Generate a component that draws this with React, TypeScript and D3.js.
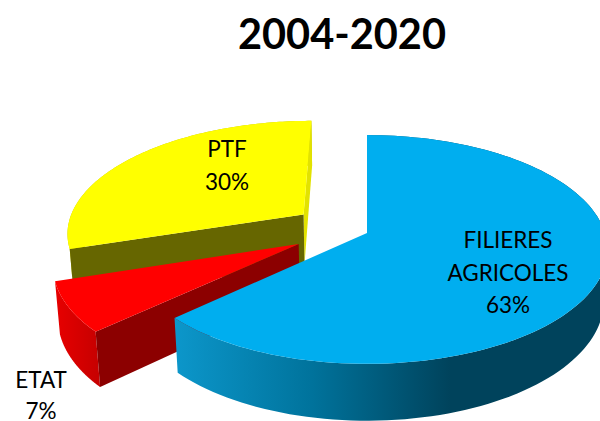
import * as d3 from 'd3'

const title = '2004-2020'
const categories = ['FILIERES AGRICOLES', 'ETAT', 'PTF']
const values = [63, 7, 30]
const topColors = ['#00aeef', '#ff0000', '#ffff00']
const cutColors = ['#0a4a62', '#8c0000', '#666600']
const backColors = ['#00536f', '#a00000', '#e2e200']
const rimColors = ['url(#blueRim)', 'url(#redRim)', '#c4c400']

// how far each slice is pulled out of the pie, on the ground plane
const explodeX = [0, -0.283, -0.273]
const explodeY = [0, -0.097, 0.17]

const labelLines = [['FILIERES', 'AGRICOLES', '63%'], ['ETAT', '7%'], ['PTF', '30%']]
const labelX = [508, 41, 227]
const labelY = [248, 388, 157]

const W = 600
const H = 421
const cx = 367
const cy = 233
const R = 238
const Ry = 112
const k = 0.144 // perspective
const drop = 0.015
const D = 51.5 // thickness

function project(x: number, y: number, low: boolean): [number, number] {
  const s = 1 / (1 + k * y + (low ? drop : 0))
  return [cx + R * x * s, cy - Ry * y * s + (low ? D * s : 0)]
}

export default function App() {
  const slices = d3.pie<number>().sort(null)(values)
  const line = d3.line()

  const order = [2, 1, 0]

  return (
    <svg width={W} height={H} viewBox={`0 0 ${W} ${H}`}
      style={{ position: 'absolute', left: 0, top: 0, display: 'block' }}>
      <defs>
        <linearGradient id="blueRim" gradientUnits="userSpaceOnUse" x1={173} x2={450} y1={0} y2={0}>
          <stop offset="0" stopColor="#0c97cb" />
          <stop offset="0.5" stopColor="#00739c" />
          <stop offset="1" stopColor="#00435c" />
        </linearGradient>
        <linearGradient id="redRim" gradientUnits="userSpaceOnUse" x1={54} x2={97} y1={0} y2={0}>
          <stop offset="0" stopColor="#e80000" />
          <stop offset="1" stopColor="#c80000" />
        </linearGradient>
      </defs>

      {order.map(i => {
        const a = slices[i]
        const hx = explodeX[i]
        const hy = explodeY[i]
        const thetas = d3.range(0, 121).map(t => a.startAngle + (a.endAngle - a.startAngle) * t / 120)
        const pt = (th: number, low: boolean) => project(hx + Math.sin(th), hy + Math.cos(th), low)
        const hubTop = project(hx, hy, false)
        const hubLow = project(hx, hy, true)
        const ringTop = thetas.map(th => pt(th, false))
        const ringLow = thetas.map(th => pt(th, true))

        const wall = (th: number) => line([hubTop, pt(th, false), pt(th, true), hubLow]) + 'Z'
        return (
          <g key={categories[i]}>
            {/* rim, then the cut faces that can be seen, then the top */}
            <path d={line([...ringTop, ...ringLow.slice().reverse()]) + 'Z'} fill={rimColors[i]} />
            {i !== 1 && <path d={wall(i === 0 ? a.startAngle : a.endAngle)} fill={backColors[i]} />}
            {i !== 0 && <path d={wall(a.startAngle)} fill={cutColors[i]} />}
            <path d={line([hubTop, ...ringTop]) + 'Z'} fill={topColors[i]} />
          </g>
        )
      })}

      <text x={342} y={49} textAnchor="middle" fontFamily="Lato" fontWeight={700} fontSize={41.5} fill="#000">{title}</text>

      {labelLines.map((lines, i) => (
        <text key={categories[i]} fontFamily="Lato" fontSize={22.5} fill="#000" textAnchor="middle">
          {lines.map((s, j) => (
            <tspan key={s} x={labelX[i]} y={labelY[i] + j * (i === 1 ? 31 : 32.5)}>{s}</tspan>
          ))}
        </text>
      ))}
    </svg>
  )
}
